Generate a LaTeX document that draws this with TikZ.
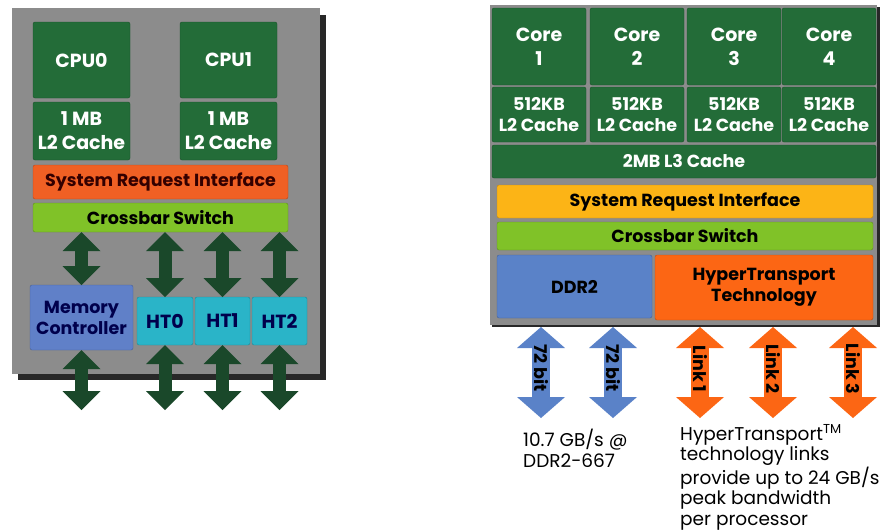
\documentclass[tikz,border=0pt]{standalone}
\usepackage{fontspec}
\setmainfont{Poppins}
\usetikzlibrary{arrows.meta}

\definecolor{panelgray}{RGB}{140,140,140}
\definecolor{shadowgray}{RGB}{40,40,40}
\definecolor{boxgreen}{RGB}{35,108,56}
\definecolor{arrowgreen}{RGB}{26,72,42}
\definecolor{sriorange}{RGB}{240,96,36}
\definecolor{sriyellow}{RGB}{252,180,22}
\definecolor{xbargreen}{RGB}{128,194,40}
\definecolor{mcblue}{RGB}{96,128,200}
\definecolor{htcyan}{RGB}{42,180,200}
\definecolor{ddrblue}{RGB}{90,130,200}
\definecolor{htorange}{RGB}{252,102,20}

\tikzset{
    blk/.style={fill=#1, draw=#1!75!black, rounded corners=2pt, anchor=north west,
        inner sep=0, outer sep=0, align=center},
    bigfont/.style={font=\fontsize{19}{24}\selectfont\bfseries},
    midfont/.style={font=\fontsize{17.5}{21}\selectfont\bfseries},
    notefont/.style={font=\fontsize{18.5}{20.5}\selectfont},
    biarrow/.style={draw=#1, line width=13pt,
        {Triangle[width=38pt,length=19pt,line width=0pt]}-{Triangle[width=38pt,length=19pt,line width=0pt]}},
    busarrow/.style={draw=#1, line width=18pt,
        {Triangle[width=48pt,length=21pt,line width=0pt]}-{Triangle[width=48pt,length=21pt,line width=0pt]}}
}

\begin{document}
\begin{tikzpicture}[x=1pt, y=-1pt]
\useasboundingbox (0,0) rectangle (880,531);

% dual core
\fill[shadowgray] (18,15) rectangle (326,380);
\fill[panelgray] (12,8) rectangle (320,374);

\node[blk=boxgreen, bigfont, text=white, minimum width=97pt, minimum height=76pt] (cpu0) at (33,22) {CPU0};
\node[blk=boxgreen, bigfont, text=white, minimum width=97pt, minimum height=58pt] (l2a) at (33,102) {1 MB\\L2 Cache};
\node[blk=boxgreen, bigfont, text=white, minimum width=97pt, minimum height=76pt] (cpu1) at (180,22) {CPU1};
\node[blk=boxgreen, bigfont, text=white, minimum width=97pt, minimum height=58pt] (l2b) at (180,102) {1 MB\\L2 Cache};
\node[blk=sriorange, midfont, text=black!80!red, minimum width=255pt, minimum height=34pt] (sriL) at (33,165) {System Request Interface};
\node[blk=xbargreen, midfont, minimum width=255pt, minimum height=29pt] (xbarL) at (33,203) {Crossbar Switch};
\node[blk=mcblue, midfont, text=blue!30!black, minimum width=103pt, minimum height=65pt] (mc) at (30,285) {Memory\\Controller};
\foreach \i/\x/\w in {0/137/56, 1/195/55, 2/252/55}
    \node[blk=htcyan, bigfont, text=blue!30!black, minimum width=\w pt, minimum height=48pt] (ht\i) at (\x,297) {HT\i};

\foreach \b in {mc, ht0, ht1, ht2}{
    \coordinate (\b out) at (\b.south |- 0,410);
    \draw[biarrow=arrowgreen] (xbarL.south -| \b.north) -- (\b.north);
    \draw[biarrow=arrowgreen] (\b.south) -- (\b out);
}

% quad core
\fill[shadowgray] (492,7) rectangle (880,327);
\fill[panelgray] (490,5) rectangle (877,325);

\foreach \i/\x in {1/492, 2/590, 3/687, 4/782}{
    \node[blk=boxgreen, bigfont, text=white, minimum width=94pt, minimum height=77pt] (core\i) at (\x,8) {Core\\\i};
    \node[blk=boxgreen, midfont, text=white, minimum width=94pt, minimum height=55pt] (l2c\i) at (\x,87) {512KB\\L2 Cache};
}
\node[blk=boxgreen, midfont, text=white, minimum width=384pt, minimum height=33pt] (l3) at (492,145) {2MB L3 Cache};
\node[blk=sriyellow, midfont, minimum width=376pt, minimum height=33pt] (sriR) at (497,185) {System Request Interface};
\node[blk=xbargreen, midfont, minimum width=376pt, minimum height=28pt] (xbarR) at (497,222) {Crossbar Switch};
\node[blk=ddrblue, midfont, minimum width=155pt, minimum height=63pt] (ddr) at (497,255) {DDR2};
\node[blk=htorange, midfont, minimum width=218pt, minimum height=65pt] (htt) at (655,255) {HyperTransport\\Technology};

\foreach \i/\x in {1/541, 2/613}{
    \coordinate (bus\i) at (\x,418);
    \draw[busarrow=ddrblue, shorten <=9pt] (ddr.south -| bus\i) -- node[midfont, rotate=-90]{72 bit} (bus\i);
}
\foreach \i/\x in {1/700, 2/773, 3/853}{
    \coordinate (link\i) at (\x,418);
    \draw[busarrow=htorange, shorten <=7pt] (htt.south -| link\i) -- node[midfont, rotate=-90]{Link \i} (link\i);
}

\node[anchor=base west, align=left, inner sep=0, notefont] (ddrnote) at (523,467) {10.7 GB/s @\\DDR2-667};
\node[anchor=base west, align=left, inner sep=0, notefont] (htnote) at (680,525)
    {HyperTransport\textsuperscript{TM}\\technology links\\provide up to 24 GB/s\\peak bandwidth\\per processor};

\end{tikzpicture}
\end{document}
